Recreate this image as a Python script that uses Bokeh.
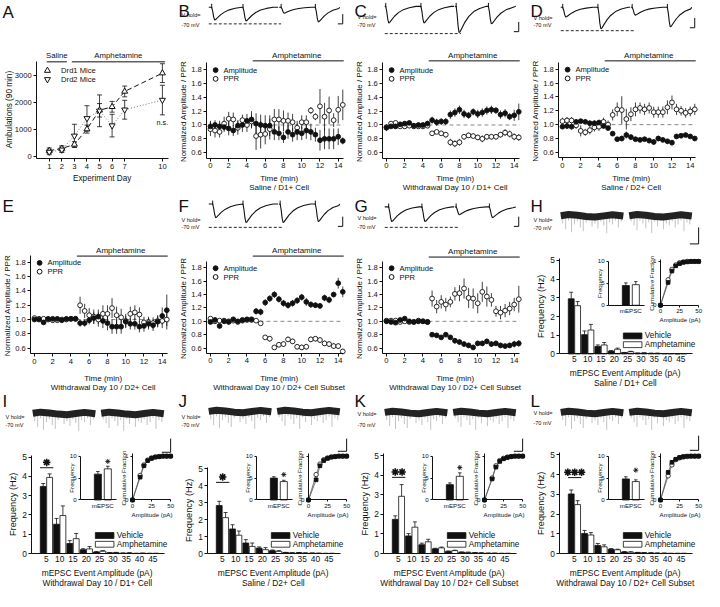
import math
from bokeh.plotting import figure
from bokeh.models import Range1d, LinearAxis, FixedTicker, NumeralTickFormatter
from bokeh.embed import file_html
from bokeh.resources import INLINE
from bokeh.core.properties import value

FONT = "Liberation Sans"
INK = "#111111"
W, H = 720, 607

# ---------------- data ----------------
DAYS = [1, 2, 3, 4, 5, 6, 7, 10]
DRD1 = [200, 280, 430, 1000, 1700, 1830, 2400, 3080]
DRD1_ERR = [100, 100, 100, 150, 250, 200, 200, 350]
DRD2 = [150, 230, 750, 1400, 1680, 1130, 1720, 2080]
DRD2_ERR = [100, 100, 430, 470, 590, 420, 350, 550]

TIME = [0, 0.5, 1, 1.5, 2, 2.5, 3, 3.5, 4, 4.5, 5, 5.5, 6, 6.5, 7, 7.5, 8, 8.5, 9, 9.5,
        10, 10.5, 11, 11.5, 12, 12.5, 13, 13.5, 14, 14.5]

B_AMP = [0.98, 1.00, 0.98, 0.97, 0.95, 0.92, 0.99, 1.00, 1.06, 1.08, 1.02, 1.00, 0.99, 0.99, 0.90,
         0.88, 0.82, 0.90, 0.86, 0.90, 0.88, 0.92, 0.90, 0.86, 0.78, 0.80, 0.80, 0.80, 0.83, 0.77]
B_AMP_ERR = [0.08, 0.07, 0.08, 0.07, 0.10, 0.08, 0.08, 0.10, 0.10, 0.12, 0.15, 0.15, 0.15, 0.15, 0.12,
             0.10, 0.08, 0.10, 0.10, 0.12, 0.10, 0.12, 0.12, 0.10, 0.15, 0.15, 0.15, 0.15, 0.12, 0.05]
B_PPR = [0.94, 0.92, 0.90, 1.02, 1.09, 1.08, 0.96, 1.07, 1.00, 1.05, 0.84, 0.86, 0.87, 0.94, 1.08,
         1.08, 1.06, 1.06, 1.04, 0.96, 1.04, 1.04, 1.21, 1.12, 1.27, 1.12, 1.21, 1.07, 1.22, 1.29]
B_PPR_ERR = [0.10, 0.10, 0.08, 0.10, 0.10, 0.10, 0.10, 0.08, 0.10, 0.10, 0.20, 0.20, 0.15, 0.15, 0.15,
             0.15, 0.15, 0.12, 0.12, 0.10, 0.10, 0.10, 0.05, 0.05, 0.25, 0.20, 0.20, 0.10, 0.20, 0.22]

C_AMP = [0.96, 0.98, 0.98, 1.01, 1.02, 1.03, 0.99, 1.00, 1.00, 1.02, 1.07, 1.04, 1.05, 1.05, 1.15,
         1.18, 1.22, 1.16, 1.14, 1.19, 1.16, 1.18, 1.21, 1.22, 1.21, 1.15, 1.17, 1.12, 1.14, 1.19]
C_AMP_ERR = [0.05, 0.03, 0.03, 0.03, 0.03, 0.03, 0.03, 0.03, 0.03, 0.04, 0.05, 0.05, 0.05, 0.05, 0.06,
             0.06, 0.06, 0.06, 0.05, 0.05, 0.06, 0.06, 0.06, 0.06, 0.05, 0.06, 0.06, 0.05, 0.08, 0.12]
C_PPR = [0.97, 1.02, 1.03, 0.98, 0.98, 0.99, 0.98, 0.98, 0.98, 0.99, 0.88, 0.90, 0.88, 0.86, 0.75,
         0.73, 0.75, 0.83, 0.85, 0.84, 0.82, 0.80, 0.83, 0.83, 0.83, 0.86, 0.89, 0.87, 0.83, 0.82]
C_PPR_ERR = [0.03, 0.03, 0.03, 0.03, 0.03, 0.03, 0.02, 0.02, 0.02, 0.02, 0.03, 0.03, 0.03, 0.04, 0.05,
             0.05, 0.05, 0.04, 0.04, 0.03, 0.04, 0.05, 0.04, 0.04, 0.04, 0.04, 0.05, 0.05, 0.05, 0.05]

D_AMP = [0.97, 0.98, 0.97, 1.04, 1.05, 1.04, 1.02, 1.02, 1.03, 0.98, 0.95, 0.87, 0.79, 0.80, 0.85,
         0.82, 0.79, 0.78, 0.79, 0.77, 0.75, 0.80, 0.78, 0.76, 0.74, 0.83, 0.84, 0.85, 0.83, 0.80]
D_AMP_ERR = [0.03, 0.04, 0.04, 0.04, 0.03, 0.03, 0.04, 0.04, 0.04, 0.03, 0.02, 0.02, 0.03, 0.04, 0.05,
             0.04, 0.03, 0.03, 0.03, 0.04, 0.04, 0.04, 0.03, 0.03, 0.04, 0.03, 0.02, 0.02, 0.02, 0.03]
D_PPR = [1.05, 1.06, 1.06, 0.99, 0.91, 0.89, 0.92, 0.96, 0.97, 1.04, 1.00, 1.14, 1.22, 1.21, 1.08,
         1.15, 1.22, 1.24, 1.22, 1.24, 1.18, 1.18, 1.18, 1.25, 1.32, 1.22, 1.20, 1.17, 1.19, 1.22]
D_PPR_ERR = [0.05, 0.05, 0.05, 0.05, 0.08, 0.05, 0.06, 0.06, 0.06, 0.06, 0.06, 0.08, 0.10, 0.20, 0.15,
             0.10, 0.10, 0.08, 0.08, 0.08, 0.08, 0.08, 0.08, 0.10, 0.10, 0.08, 0.07, 0.07, 0.07, 0.08]

E_AMP = [1.00, 1.00, 0.96, 1.01, 1.01, 1.01, 0.99, 1.01, 1.01, 1.01, 0.95, 0.95, 0.99, 1.02, 1.04,
         0.98, 0.95, 0.90, 0.90, 0.90, 0.97, 0.94, 0.94, 0.90, 0.91, 0.94, 0.92, 0.97, 1.05, 1.13]
E_AMP_ERR = [0.02, 0.02, 0.02, 0.02, 0.02, 0.02, 0.02, 0.02, 0.02, 0.02, 0.05, 0.05, 0.06, 0.08, 0.10,
             0.10, 0.10, 0.10, 0.10, 0.10, 0.08, 0.08, 0.08, 0.08, 0.08, 0.08, 0.08, 0.08, 0.12, 0.22]
E_PPR = [1.02, 1.01, 1.01, 1.00, 0.99, 0.99, 1.00, 1.00, 1.01, 1.01, 1.20, 1.12, 1.06, 1.04, 1.00,
         1.08, 1.08, 1.16, 1.06, 1.03, 0.98, 1.08, 1.10, 1.07, 0.96, 0.96, 0.95, 0.98, 0.98, 1.00]
E_PPR_ERR = [0.02, 0.02, 0.02, 0.02, 0.02, 0.02, 0.02, 0.02, 0.02, 0.02, 0.12, 0.10, 0.10, 0.10, 0.10,
             0.12, 0.12, 0.14, 0.12, 0.12, 0.10, 0.10, 0.10, 0.10, 0.08, 0.08, 0.08, 0.08, 0.10, 0.14]

F_AMP = [0.99, 1.02, 0.93, 1.00, 0.99, 1.03, 1.00, 1.02, 1.03, 1.03, 1.15, 1.14, 1.28, 1.34, 1.40,
         1.33, 1.27, 1.24, 1.27, 1.31, 1.36, 1.29, 1.25, 1.24, 1.23, 1.35, 1.32, 1.40, 1.57, 1.44]
F_AMP_ERR = [0.02, 0.02, 0.02, 0.02, 0.02, 0.02, 0.02, 0.02, 0.02, 0.02, 0.05, 0.05, 0.05, 0.05, 0.05,
             0.05, 0.05, 0.05, 0.05, 0.05, 0.05, 0.06, 0.05, 0.04, 0.04, 0.05, 0.05, 0.04, 0.08, 0.08]
F_PPR = [1.04, 1.00, 1.01, 1.01, 1.00, 1.01, 0.99, 1.01, 1.02, 1.02, 1.01, 0.97, 0.76, 0.74, 0.61,
         0.65, 0.66, 0.73, 0.70, 0.62, 0.61, 0.62, 0.73, 0.74, 0.72, 0.67, 0.66, 0.63, 0.63, 0.55]
F_PPR_ERR = [0.02, 0.02, 0.02, 0.02, 0.02, 0.02, 0.02, 0.02, 0.02, 0.02, 0.02, 0.02, 0.03, 0.04, 0.03,
             0.04, 0.04, 0.04, 0.04, 0.04, 0.04, 0.04, 0.04, 0.04, 0.04, 0.04, 0.04, 0.04, 0.04, 0.04]

G_AMP = [1.00, 0.99, 0.98, 1.02, 1.04, 1.00, 0.99, 1.00, 1.00, 0.99, 0.80, 0.79, 0.76, 0.80, 0.76,
         0.71, 0.69, 0.66, 0.64, 0.61, 0.67, 0.67, 0.70, 0.66, 0.67, 0.64, 0.63, 0.64, 0.66, 0.67]
G_AMP_ERR = [0.02, 0.02, 0.02, 0.02, 0.02, 0.02, 0.02, 0.02, 0.02, 0.02, 0.03, 0.03, 0.03, 0.03, 0.03,
             0.04, 0.04, 0.04, 0.04, 0.04, 0.04, 0.04, 0.04, 0.04, 0.04, 0.04, 0.04, 0.04, 0.05, 0.05]
G_PPR = [1.01, 1.01, 1.01, 0.99, 1.00, 0.99, 0.99, 1.01, 1.00, 0.99, 1.34, 1.22, 1.29, 1.25, 1.29,
         1.41, 1.42, 1.49, 1.35, 1.34, 1.27, 1.44, 1.37, 1.32, 1.15, 1.13, 1.16, 1.19, 1.25, 1.33]
G_PPR_ERR = [0.02, 0.02, 0.02, 0.02, 0.02, 0.02, 0.02, 0.02, 0.02, 0.02, 0.12, 0.10, 0.10, 0.10, 0.08,
             0.10, 0.12, 0.15, 0.15, 0.15, 0.15, 0.15, 0.15, 0.10, 0.08, 0.10, 0.10, 0.10, 0.10, 0.20]

BINS = [5, 10, 15, 20, 25, 30, 35, 40, 45]
H_VEH = [2.95, 1.03, 0.40, 0.15, 0.07, 0.04, 0.03, 0.02, 0.01]
H_VEH_ERR = [0.35, 0.20, 0.08, 0.03, 0.01, 0.01, 0.01, 0.00, 0.00]
H_AMPH = [2.58, 1.28, 0.48, 0.25, 0.12, 0.05, 0.03, 0.02, 0.02]
H_AMPH_ERR = [0.22, 0.30, 0.13, 0.06, 0.02, 0.01, 0.01, 0.00, 0.00]
I_VEH = [3.48, 1.52, 0.52, 0.20, 0.08, 0.04, 0.02, 0.01, 0.01]
I_VEH_ERR = [0.15, 0.30, 0.15, 0.05, 0.02, 0.01, 0.01, 0.00, 0.00]
I_AMPH = [3.95, 1.97, 0.77, 0.24, 0.12, 0.05, 0.03, 0.02, 0.01]
I_AMPH_ERR = [0.18, 0.50, 0.27, 0.12, 0.03, 0.01, 0.01, 0.00, 0.00]
J_VEH = [2.83, 1.45, 0.62, 0.32, 0.17, 0.06, 0.05, 0.03, 0.01]
J_VEH_ERR = [0.25, 0.25, 0.20, 0.07, 0.04, 0.01, 0.01, 0.00, 0.00]
J_AMPH = [2.12, 1.08, 0.42, 0.23, 0.13, 0.04, 0.03, 0.02, 0.01]
J_AMPH_ERR = [0.30, 0.25, 0.20, 0.12, 0.04, 0.01, 0.01, 0.00, 0.00]
K_VEH = [1.75, 0.90, 0.45, 0.24, 0.11, 0.07, 0.04, 0.02, 0.01]
K_VEH_ERR = [0.18, 0.12, 0.08, 0.03, 0.02, 0.01, 0.01, 0.00, 0.00]
K_AMPH = [2.93, 1.35, 0.60, 0.29, 0.15, 0.06, 0.03, 0.02, 0.01]
K_AMPH_ERR = [0.60, 0.27, 0.13, 0.04, 0.02, 0.01, 0.01, 0.00, 0.00]
L_VEH = [3.02, 1.02, 0.41, 0.22, 0.08, 0.05, 0.03, 0.02, 0.01]
L_VEH_ERR = [0.20, 0.15, 0.10, 0.03, 0.02, 0.01, 0.01, 0.00, 0.00]
L_AMPH = [2.48, 0.94, 0.34, 0.19, 0.07, 0.04, 0.02, 0.01, 0.01]
L_AMPH_ERR = [0.20, 0.12, 0.10, 0.03, 0.02, 0.01, 0.01, 0.00, 0.00]

# mean mEPSC frequency (vehicle, amphetamine)
H_MEAN, H_MEAN_ERR = [4.5, 4.7], [0.6, 0.7]
I_MEAN, I_MEAN_ERR = [5.9, 7.1], [0.6, 0.6]
J_MEAN, J_MEAN_ERR = [5.0, 4.2], [0.3, 0.3]
K_MEAN, K_MEAN_ERR = [3.5, 5.4], [0.4, 0.8]
L_MEAN, L_MEAN_ERR = [4.8, 4.2], [0.5, 0.4]

# cumulative fraction of event amplitudes
CUM_X = [0, 10, 15, 20, 25, 30, 35, 40, 45, 50]
H_CUM_VEH = [0, 0.52, 0.78, 0.90, 0.95, 0.98, 0.99, 1.0, 1.0, 1.0]
H_CUM_AMPH = [0, 0.58, 0.82, 0.92, 0.97, 0.99, 1.0, 1.0, 1.0, 1.0]
I_CUM_VEH = [0, 0.52, 0.78, 0.90, 0.95, 0.98, 0.99, 1.0, 1.0, 1.0]
I_CUM_AMPH = [0, 0.56, 0.80, 0.91, 0.96, 0.98, 0.99, 1.0, 1.0, 1.0]
J_CUM_VEH = [0, 0.46, 0.78, 0.90, 0.95, 0.98, 0.99, 1.0, 1.0, 1.0]
J_CUM_AMPH = [0, 0.58, 0.82, 0.92, 0.96, 0.98, 0.99, 1.0, 1.0, 1.0]
K_CUM_VEH = [0, 0.48, 0.75, 0.88, 0.94, 0.97, 0.99, 1.0, 1.0, 1.0]
K_CUM_AMPH = [0, 0.50, 0.78, 0.90, 0.95, 0.98, 0.99, 1.0, 1.0, 1.0]
L_CUM_VEH = [0, 0.63, 0.86, 0.93, 0.97, 0.99, 1.0, 1.0, 1.0, 1.0]
L_CUM_AMPH = [0, 0.55, 0.80, 0.92, 0.96, 0.98, 0.99, 1.0, 1.0, 1.0]

# example evoked EPSC pairs: (stimulus position, peak depth) per sweep
EPSC_TPL_T = [0, 1, 2, 3, 4, 6, 9, 13, 18, 24, 31]
EPSC_TPL_V = [0, 0.3, 0.75, 1.0, 0.97, 0.82, 0.6, 0.38, 0.2, 0.08, 0.0]
B_TRACE = [[[36, 13], [68, 14]], [[107, 6], [142, 15]]]
C_TRACE = [[[34, 17], [70, 17]], [[106, 27], [139, 18]]]
D_TRACE = [[[35, 10], [71, 22]], [[106, 8], [142, 20]]]
F_TRACE = [[[37, 14], [68, 19]], [[106, 19], [142, 18]]]
G_TRACE = [[[37, 15], [71, 15]], [[106, 8], [140, 11]]]

# example mEPSC recordings: slow baseline drift and event depths
BAND_DX = [0, 8, 17, 26, 35, 44, 53, 64]
BAND_DY = [0.0, -1.2, -0.4, 0.8, 1.4, 0.2, -1.0, 0.4]
SPIKE_DX = [2, 5, 8, 11, 14, 17, 20, 23, 26, 29, 32, 35, 38, 41, 44, 47, 50, 53, 56, 59, 62]
SPIKE_D1 = [8, 14, 5, 17, 9, 6, 12, 16, 7, 5, 11, 8, 13, 6, 10, 18, 7, 9, 5, 12, 6]
SPIKE_D2 = [6, 10, 15, 5, 8, 13, 7, 18, 6, 11, 5, 14, 8, 10, 6, 12, 9, 5, 16, 7, 9]

# ---------------- figure ----------------
p = figure(width=704, height=591, x_range=Range1d(0, W), y_range=Range1d(H, 0),
           x_axis_type=None, y_axis_type=None, toolbar_location=None,
           output_backend="svg", min_border=0, outline_line_color=None)
p.background_fill_color = "white"
p.border_fill_color = "white"


class Space:
    def __init__(self, name, px0, px1, dx0, dx1, pyb, pyt, dy0, dy1):
        self.name = name
        self.px0, self.px1, self.dx0, self.dx1 = px0, px1, dx0, dx1
        self.pyb, self.pyt, self.dy0, self.dy1 = pyb, pyt, dy0, dy1
        sx = (dx1 - dx0) / (px1 - px0)
        sy = (dy1 - dy0) / (pyb - pyt)
        p.extra_x_ranges[name] = Range1d(dx0 - px0 * sx, dx0 + (W - px0) * sx)
        p.extra_y_ranges[name] = Range1d(dy0 - (H - pyb) * sy, dy0 + pyb * sy)
        self.kw = dict(x_range_name=name, y_range_name=name)

    def X(self, v):
        return self.px0 + (v - self.dx0) * (self.px1 - self.px0) / (self.dx1 - self.dx0)

    def Y(self, v):
        return self.pyb - (v - self.dy0) * (self.pyb - self.pyt) / (self.dy1 - self.dy0)


def style_axis(ax, size, tick):
    ax.major_label_text_font = FONT
    ax.major_label_text_font_size = f"{size}px"
    ax.major_label_text_color = INK
    ax.axis_line_color = INK
    ax.axis_line_width = 1
    ax.major_tick_line_color = INK
    ax.major_tick_out = tick
    ax.major_tick_in = 0
    ax.minor_tick_out = 0
    ax.minor_tick_in = 0
    ax.major_label_standoff = 2


def yaxis(sp, ticks, fmt="0", size=7.6, tick=3, bounds=None):
    ax = LinearAxis(x_range_name=sp.name, y_range_name=sp.name, fixed_location=sp.dx0,
                    bounds=bounds or (sp.dy0, sp.dy1),
                    ticker=FixedTicker(ticks=ticks, minor_ticks=[]),
                    formatter=NumeralTickFormatter(format=fmt))
    style_axis(ax, size, tick)
    p.add_layout(ax, "left")


def xaxis(sp, ticks, fmt="0", size=7.6, tick=3, bounds=None, overrides=None):
    ax = LinearAxis(x_range_name=sp.name, y_range_name=sp.name, fixed_location=sp.dy0,
                    bounds=bounds or (sp.dx0, sp.dx1),
                    ticker=FixedTicker(ticks=ticks, minor_ticks=[]),
                    formatter=NumeralTickFormatter(format=fmt))
    style_axis(ax, size, tick)
    if overrides:
        ax.major_label_overrides = overrides
    p.add_layout(ax, "below")


def txt(x, y, s, size=7.6, align="center", baseline="middle", angle=0.0, style="normal",
        color=INK, sp=None):
    kw = sp.kw if sp is not None else {}
    p.text(x=[x], y=[y], text=[s], text_font=value(FONT), text_font_size=f"{size}px",
           text_align=align, text_baseline=baseline, angle=angle, text_font_style=style,
           text_color=color, **kw)


def letter(x, y, s):
    txt(x, y, s, size=17, align="left", baseline="top")


def stars(cx, cy, n, size, gap, lw=1.6):
    xs = [cx + (i - (n - 1) / 2) * gap for i in range(n)]
    p.scatter(xs, [cy] * n, marker="asterisk", size=size, line_color=INK, line_width=lw)


def vline_err(sp, xs, ys, errs, cap=0, width=0.8, up_only=False):
    lo = [y if up_only else y - e for y, e in zip(ys, errs)]
    hi = [y + e for y, e in zip(ys, errs)]
    p.segment(x0=xs, y0=lo, x1=xs, y1=hi, line_color=INK, line_width=width, **sp.kw)
    if cap:
        p.scatter(x=xs, y=hi, marker="dash", size=cap, line_color=INK, line_width=width, **sp.kw)
        if not up_only:
            p.scatter(x=xs, y=lo, marker="dash", size=cap, line_color=INK, line_width=width, **sp.kw)


# ---------------- panel A ----------------
letter(2, 3, "A")
sa = Space("A", 37, 172, 0, 10.5, 162.5, 63, -100, 3500)
vline_err(sa, DAYS, DRD1, DRD1_ERR, cap=5)
vline_err(sa, DAYS, DRD2, DRD2_ERR, cap=5)
p.line(DAYS, DRD1, line_color=INK, line_dash="5 3", line_width=1, **sa.kw)
p.line(DAYS, DRD2, line_color="#777777", line_dash="1 2", line_width=1, **sa.kw)
p.scatter(DAYS, DRD1, marker="triangle", size=6, fill_color="white", line_color=INK, line_width=1, **sa.kw)
p.scatter(DAYS, DRD2, marker="inverted_triangle", size=6, fill_color="white", line_color=INK, line_width=1, **sa.kw)
yaxis(sa, [0, 1000, 2000, 3000], fmt="0")
xaxis(sa, DAYS, fmt="0", bounds=(0, 10.5))
txt(9, 112, "Ambulations (90 min)", size=8.2, angle=math.pi / 2)
txt(104, 183, "Experiment Day", size=8.2)
txt(sa.X(10), sa.Y(1230), "n.s.", size=7.2)
p.segment(x0=[sa.X(0.8), sa.X(2.8)], y0=[63, 63], x1=[sa.X(2.4), sa.X(10.2)], y1=[63, 63],
          line_color=INK, line_width=1)
txt(sa.X(1.6), 57, "Saline", size=7.8)
txt(sa.X(6.5), 57, "Amphetamine", size=7.8)
p.scatter([48], [72], marker="triangle", size=6, fill_color="white", line_color=INK)
p.scatter([48], [81], marker="inverted_triangle", size=6, fill_color="white", line_color=INK)
txt(62, 72, "Drd1 Mice", size=7.6, align="left")
txt(62, 81, "Drd2 Mice", size=7.6, align="left")


# ---------------- time-course panels ----------------
def epsc_traces(ox, base, sweeps, dash_y, dash_x1, bar_y0, bar_y1):
    spans = [(33, 104), (105, 167)]
    for (x0, x1), events in zip(spans, sweeps):
        xs, ys = [ox + x0], [base]
        for ax_, d in events:
            xs.append(ox + ax_)
            ys.append(base)
            for t, v in zip(EPSC_TPL_T, EPSC_TPL_V):
                if ax_ + t <= x1:
                    xs.append(ox + ax_ + t)
                    ys.append(base + d * v)
        if xs[-1] < ox + x1:
            xs.append(ox + x1)
            ys.append(base)
        p.line(xs, ys, line_color=INK, line_width=1.1)
        arts = [ox + e[0] for e in events]
        p.segment(x0=arts, y0=[base + 1] * len(arts), x1=arts, y1=[base - 3.5] * len(arts),
                  line_color=INK, line_width=1)
    p.segment(x0=[ox + 33], y0=[dash_y], x1=[ox + dash_x1], y1=[dash_y],
              line_color=INK, line_width=0.9, line_dash="3 2")
    p.segment(x0=[ox + 170, ox + 165], y0=[bar_y0, bar_y1], x1=[ox + 170, ox + 170],
              y1=[bar_y1, bar_y1], line_color=INK, line_width=1)


def vhold(ox, y1, y2):
    txt(ox + 5, y1, "V hold=", size=5.6, align="left")
    txt(ox + 5, y2, "-70 mV", size=5.6, align="left")


def time_panel(key, ox, y18, y06, amp, amp_err, ppr, ppr_err, subtitle, amph_y, label_y):
    ppu = (y06 - y18) / 1.2
    sp = Space(key, ox + 31, ox + 171, -0.4, 14.6, y06 + 0.08 * ppu, y18 - 0.1 * ppu, 0.52, 1.9)
    p.segment(x0=[4.6], y0=[1.0], x1=[14.6], y1=[1.0], line_color="#8a8a8a",
              line_dash="4 3", line_width=1, **sp.kw)
    vline_err(sp, TIME, ppr, ppr_err)
    vline_err(sp, TIME, amp, amp_err)
    p.scatter(TIME, ppr, size=4.8, fill_color="white", line_color=INK, line_width=0.9, **sp.kw)
    p.scatter(TIME, amp, size=4.8, fill_color=INK, line_color=INK, line_width=0.9, **sp.kw)
    yaxis(sp, [0.6, 0.8, 1.0, 1.2, 1.4, 1.6, 1.8], fmt="0.0")
    xaxis(sp, [0, 2, 4, 6, 8, 10, 12, 14], fmt="0")
    mid_y = (sp.pyb + sp.pyt) / 2
    txt(ox + 7, mid_y + 1, "Normalized Amplitude / PPR", size=8, angle=math.pi / 2)
    txt(ox + 105, label_y, "Time (min)", size=8)
    txt(ox + 105, label_y + 9, subtitle, size=8)
    p.segment(x0=[ox + 78], y0=[amph_y], x1=[ox + 171], y1=[amph_y], line_color=INK, line_width=1)
    txt(ox + 123, amph_y - 6, "Amphetamine", size=8)
    ly = y18 + 0.5
    p.scatter([ox + 40], [ly], size=4.8, fill_color=INK, line_color=INK)
    p.scatter([ox + 40], [ly + 9], size=4.8, fill_color="white", line_color=INK)
    txt(ox + 48, ly, "Amplitude", size=7.6, align="left")
    txt(ox + 48, ly + 9, "PPR", size=7.6, align="left")
    return sp


letter(182, 2, "B")
time_panel("B", 180, 71, 156.3, B_AMP, B_AMP_ERR, B_PPR, B_PPR_ERR, "Saline / D1+ Cell", 62, 183)
epsc_traces(180, 7, B_TRACE, 24, 107, 14, 24)
vhold(180, 15, 25)

letter(362, 2, "C")
time_panel("C", 360, 71, 156.3, C_AMP, C_AMP_ERR, C_PPR, C_PPR_ERR,
           "Withdrawal Day 10 / D1+ Cell", 62, 183)
epsc_traces(360, 6, C_TRACE, 34, 111, 22, 32)
vhold(360, 17, 25)

letter(542, 2, "D")
time_panel("D", 540, 70.5, 156, D_AMP, D_AMP_ERR, D_PPR, D_PPR_ERR, "Saline / D2+ Cell", 62, 183)
epsc_traces(540, 7, D_TRACE, 31, 108, 18, 28)
vhold(540, 18, 25)

letter(2, 202, "E")
time_panel("E", 0, 269, 357, E_AMP, E_AMP_ERR, E_PPR, E_PPR_ERR,
           "Withdrawal Day 10 / D2+ Cell", 262.5, 388.5)

letter(182, 202, "F")
time_panel("F", 180, 274.5, 357, F_AMP, F_AMP_ERR, F_PPR, F_PPR_ERR,
           "Withdrawal Day 10 / D2+ Cell Subset", 262.5, 388.5)
epsc_traces(180, 209, F_TRACE, 233, 108, 222, 232)
vhold(180, 225, 233)

letter(362, 202, "G")
time_panel("G", 360, 274.5, 357, G_AMP, G_AMP_ERR, G_PPR, G_PPR_ERR,
           "Withdrawal Day 10 / D2+ Cell Subset", 263.5, 388.5)
epsc_traces(360, 212, G_TRACE, 233, 108, 222, 232)
vhold(360, 223, 233)


# ---------------- mEPSC panels ----------------
def noise_trace(ox, base, sbar_y0, sbar_y1):
    for seg_x, depths in ((33, SPIKE_D1), (103, SPIKE_D2)):
        sx = [ox + seg_x + d for d in SPIKE_DX]
        p.segment(x0=sx, y0=[base] * len(sx), x1=sx, y1=[base + d for d in depths],
                  line_color="#9a9a9a", line_width=0.6)
        bx = [ox + seg_x + d for d in BAND_DX]
        by = [base + d for d in BAND_DY]
        p.line(bx, by, line_color="#222222", line_width=7, line_cap="butt")
    p.segment(x0=[ox + 174, ox + 165], y0=[sbar_y0, sbar_y1], x1=[ox + 174, ox + 174],
              y1=[sbar_y1, sbar_y1], line_color=INK, line_width=1)


def mepsc_panel(key, ox, oy, y0, y5, veh, veh_err, amph, amph_err, mean, mean_err, cum_veh,
                cum_amph, subtitle, sig=0, sig_y=None, inset_sig_y=None):
    ppu = (y0 - y5) / 5
    sp = Space(key, ox + 32, ox + 168, -0.5, 49.5, y0, y5 - 0.1 * ppu, 0, 5.1)
    xv = [b - 1.2 for b in BINS]
    xa = [b + 1.2 for b in BINS]
    p.vbar(x=xv, top=veh, width=2.2, bottom=0, fill_color=INK, line_color=INK, line_width=0.8, **sp.kw)
    p.vbar(x=xa, top=amph, width=2.2, bottom=0, fill_color="white", line_color=INK, line_width=0.8, **sp.kw)
    vline_err(sp, xv, veh, veh_err, cap=4, up_only=True)
    vline_err(sp, xa, amph, amph_err, cap=4, up_only=True)
    yaxis(sp, [0, 1, 2, 3, 4, 5], fmt="0", size=8.4)
    xaxis(sp, BINS, fmt="0", size=8.4, tick=0)
    txt(ox + 13, (sp.pyb + sp.pyt) / 2, "Frequency (Hz)", size=9.2, angle=math.pi / 2)
    txt(ox + 99, y0 + 20, "mEPSC Event Amplitude (pA)", size=8.4)
    txt(ox + 99, y0 + 30, subtitle, size=8.4)
    if sig:
        p.segment(x0=[2.6], y0=[sig_y], x1=[7.6], y1=[sig_y], line_color=INK, line_width=1, **sp.kw)
        stars(sp.X(5.1), sp.Y(sig_y) - 5.5, sig, 7.5, 7)
    p.rect(x=[ox + 106.5, ox + 106.5], y=[y0 - 18.5, y0 - 9.5], width=19, height=6,
           fill_color=[INK, "white"], line_color=INK, line_width=0.8)
    txt(ox + 119, y0 - 18.5, "Vehicle", size=8.2, align="left")
    txt(ox + 119, y0 - 9.5, "Amphetamine", size=8.2, align="left")
    # inset: mean frequency
    it, ib = oy + 68, oy + 113
    si = Space(key + "i", ox + 82, ox + 119, 0, 4, ib, it, 0, 10)
    p.vbar(x=[1.9, 3.0], top=mean, width=0.78, fill_color=[INK, "white"], line_color=INK,
           line_width=0.8, **si.kw)
    vline_err(si, [1.9, 3.0], mean, mean_err, cap=3.5, up_only=True)
    yaxis(si, [0, 5, 10], fmt="0", size=6.2, tick=2)
    xaxis(si, [2.45], size=6.2, tick=0, overrides={2.45: "mEPSC"})
    txt(ox + 73, (it + ib) / 2, "Frequency", size=6.2, angle=math.pi / 2)
    if inset_sig_y is not None:
        stars(si.X(3.0), si.Y(inset_sig_y), 1, 5, 5, lw=0.9)
    # inset: cumulative fraction
    sc = Space(key + "c", ox + 135, ox + 174, 0, 50, ib, it, 0, 1)
    p.line(CUM_X, cum_veh, line_color="#555555", line_width=0.8, **sc.kw)
    p.line(CUM_X, cum_amph, line_color="#555555", line_width=0.8, **sc.kw)
    p.scatter(CUM_X, cum_amph, size=4.4, fill_color="white", line_color=INK, line_width=0.8, **sc.kw)
    p.scatter(CUM_X, cum_veh, marker="square", size=3.6, fill_color=INK, line_color=INK, **sc.kw)
    yaxis(sc, [0, 1], fmt="0", size=6.2, tick=2, bounds=(0, 1.05))
    xaxis(sc, [0, 25, 50], fmt="0", size=6.2, tick=2)
    txt(ox + 126, (it + ib) / 2, "Cumulative Fraction", size=6.2, angle=math.pi / 2)
    txt(ox + 155, ib + 15, "Amplitude (pA)", size=6.2)
    return sp


letter(542, 202, "H")
mepsc_panel("H", 540, 200, 363, 267, H_VEH, H_VEH_ERR, H_AMPH, H_AMPH_ERR, H_MEAN, H_MEAN_ERR,
            H_CUM_VEH, H_CUM_AMPH, "Saline / D1+ Cell")
noise_trace(540, 221, 233, 250)
vhold(540, 225, 234)

letter(2, 402, "I")
mepsc_panel("I", 0, 400, 568, 469, I_VEH, I_VEH_ERR, I_AMPH, I_AMPH_ERR, I_MEAN, I_MEAN_ERR,
            I_CUM_VEH, I_CUM_AMPH, "Withdrawal Day 10 / D1+ Cell", 1, 4.45, 8.8)
noise_trace(0, 424, 450, 464)
vhold(0, 428, 436)

letter(182, 402, "J")
mepsc_panel("J", 180, 400, 568, 481, J_VEH, J_VEH_ERR, J_AMPH, J_AMPH_ERR, J_MEAN, J_MEAN_ERR,
            J_CUM_VEH, J_CUM_AMPH, "Saline / D2+ Cell", 1, 4.2, 5.8)
noise_trace(180, 422, 450, 463)
vhold(180, 428, 436)

letter(362, 402, "K")
mepsc_panel("K", 360, 400, 568, 467.7, K_VEH, K_VEH_ERR, K_AMPH, K_AMPH_ERR, K_MEAN, K_MEAN_ERR,
            K_CUM_VEH, K_CUM_AMPH, "Withdrawal Day 10 / D2+ Cell Subset", 2, 3.9, 7.4)
noise_trace(360, 423, 450, 463)
vhold(360, 425, 436)

letter(542, 402, "L")
mepsc_panel("L", 540, 400, 568, 466.7, L_VEH, L_VEH_ERR, L_AMPH, L_AMPH_ERR, L_MEAN, L_MEAN_ERR,
            L_CUM_VEH, L_CUM_AMPH, "Withdrawal Day 10 / D2+ Cell Subset", 3, 3.85, 6.8)
noise_trace(540, 423, 447, 462)
vhold(540, 424, 434)

open("out.html", "w").write(file_html(p, INLINE))
